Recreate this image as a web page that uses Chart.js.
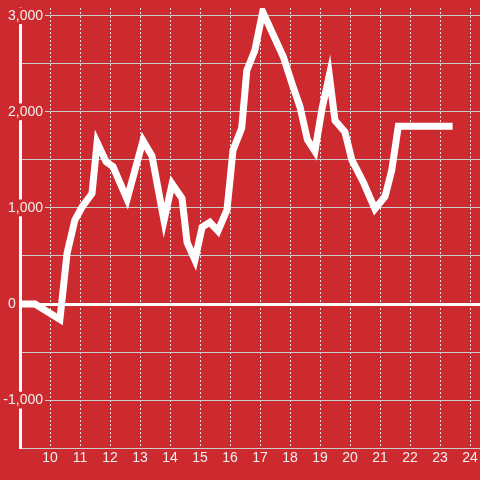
<!DOCTYPE html>
<html>
<head>
<meta charset="utf-8">
<script src="https://cdn.jsdelivr.net/npm/chart.js@4.4.1/dist/chart.umd.min.js"></script>
<style>
  html, body { margin: 0; padding: 0; background: #cc2a2f; }
  canvas { display: block; }
</style>
</head>
<body>
<canvas id="chart1" width="480" height="480"></canvas>
<script>
// hour of day and value
const hours = [8.75, 9.5, 10.33, 10.57, 10.83, 11.07, 11.4, 11.57, 11.87, 12.1, 12.57, 13.1, 13.4, 13.8,
  14.07, 14.4, 14.57, 14.83, 15.07, 15.33, 15.6, 15.9, 16.1, 16.39, 16.56, 16.83, 17.09, 17.78,
  18.06, 18.33, 18.58, 18.83, 19.06, 19.31, 19.5, 19.83, 20.06, 20.44, 20.83, 21.17, 21.39, 21.61, 23.42];
const values = [0, 0, -160, 530, 875, 1010, 1150, 1680, 1480, 1430, 1090, 1700, 1540, 870,
  1250, 1100, 640, 460, 800, 850, 760, 980, 1600, 1830, 2430, 2640, 3040, 2570,
  2300, 2055, 1710, 1590, 2020, 2380, 1910, 1790, 1500, 1270, 990, 1120, 1390, 1850, 1850];
const xTicks = [10, 11, 12, 13, 14, 15, 16, 17, 18, 19, 20, 21, 22, 23, 24];
const yGrid = [-1500, -1000, -500, 0, 500, 1000, 1500, 2000, 2500, 3000];
const yLabels = [-1000, 0, 1000, 2000, 3000];

const bg = '#cc2a2f';
Chart.defaults.font.family = "'Liberation Sans', Arial, sans-serif";
Chart.defaults.font.size = 14;
Chart.defaults.color = '#f0f0f0';

const data = {
  datasets: [{
    data: hours.map((h, i) => ({ x: h, y: values[i] })),
    borderColor: '#ffffff',
    borderWidth: 7,
    pointRadius: 0,
    tension: 0,
    fill: false
  }]
};

const config = {
  type: 'line',
  data: data,
  options: {
    responsive: false,
    animation: false,
    layout: { padding: { left: 13.4, top: 8, right: 0, bottom: 11 } },
    plugins: {
      legend: { display: false },
      tooltip: { enabled: false }
    },
    scales: {
      x: {
        type: 'linear',
        min: 9,
        max: 24.333,
        afterBuildTicks: (scale) => {
          scale.ticks = xTicks.map(v => ({ value: v }));
        },
        ticks: { padding: 2, maxRotation: 0, autoSkip: false },
        grid: { color: '#e6e6e6', lineWidth: 1, drawTicks: false },
        border: { color: '#cccccc', width: 1, dash: [2, 2] }
      },
      y: {
        min: -1500,
        max: 3080,
        afterBuildTicks: (scale) => {
          scale.ticks = yGrid.map(v => ({ value: v }));
        },
        ticks: {
          mirror: true,
          crossAlign: 'far',
          padding: -16.7,
          autoSkip: false,
          showLabelBackdrop: true,
          backdropPadding: { x: 2, y: 0 },
          backdropColor: (ctx) => (ctx.tick && yLabels.includes(ctx.tick.value) && ctx.tick.value !== 0) ? bg : 'rgba(0,0,0,0)',
          callback: (v) => {
            if (!yLabels.includes(v)) return '';
            if (v === 0) return '0       ';
            return v.toLocaleString('en-US');
          }
        },
        grid: {
          drawTicks: true,
          tickLength: 40,
          tickColor: 'rgba(0,0,0,0)',
          color: (ctx) => ctx.tick && ctx.tick.value === 0 ? '#ffffff' : '#cccccc',
          lineWidth: (ctx) => ctx.tick && ctx.tick.value === 0 ? 3 : 1
        },
        border: { color: '#ffffff', width: 3 }
      }
    }
  }
};

const myChart = new Chart(document.getElementById('chart1'), config);
</script>
</body>
</html>
